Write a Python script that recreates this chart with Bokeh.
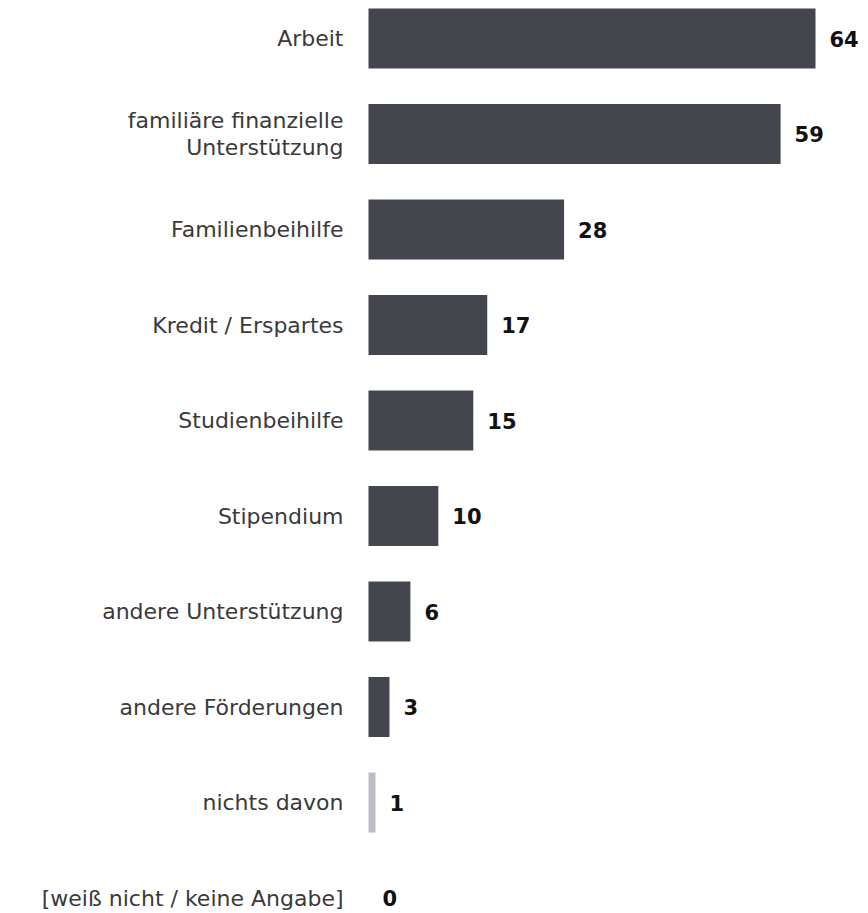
from bokeh.plotting import figure
from bokeh.models import ColumnDataSource, Range1d
from bokeh.core.properties import value
from bokeh.embed import file_html
from bokeh.resources import INLINE

categories = [
    "Arbeit",
    "familiäre finanzielle\nUnterstützung",
    "Familienbeihilfe",
    "Kredit / Erspartes",
    "Studienbeihilfe",
    "Stipendium",
    "andere Unterstützung",
    "andere Förderungen",
    "nichts davon",
    "[weiß nicht / keine Angabe]",
]
values = [64, 59, 28, 17, 15, 10, 6, 3, 1, 0]

DARK = "#43464d"
GRAY = "#b9bcc3"
FONT = "DejaVu Sans"

W, H = 868, 913
px_per_unit = 447 / 64.0
x0_px = 368
row_px = 95.5
first_px = 38.0

colors = [GRAY if c == "nichts davon" else DARK for c in categories]
idx = list(range(len(categories)))
src = ColumnDataSource(dict(
    y=idx, v=values, cat=categories, color=colors,
    lbl=[str(v) for v in values], zero=[0] * len(values),
))

p = figure(
    width=W, height=H, output_backend="svg", toolbar_location=None,
    x_axis_location=None, y_axis_location=None,
    x_range=Range1d(-x0_px / px_per_unit, (W - x0_px) / px_per_unit),
    y_range=Range1d((H - first_px) / row_px, -first_px / row_px),
    min_border=0, min_border_left=0, min_border_right=0,
    min_border_top=0, min_border_bottom=0,
)
p.outline_line_color = None
p.xgrid.visible = False
p.ygrid.visible = False
p.background_fill_color = "white"
p.border_fill_color = "white"

p.hbar(y="y", left=0, right="v", height=60 / row_px, fill_color="color",
       line_color=None, source=src)

p.text(x="zero", y="y", text="cat", source=src, x_offset=-25,
       text_align="right", text_baseline="middle",
       text_font=value(FONT), text_font_size="22px", text_color="#3a3a3a",
       text_line_height=1.1)

p.text(x="v", y="y", text="lbl", source=src, x_offset=14,
       text_align="left", text_baseline="middle",
       text_font=value(FONT), text_font_size="21px", text_font_style="bold",
       text_color="#111111")

open("out.html", "w").write(file_html(p, INLINE))
